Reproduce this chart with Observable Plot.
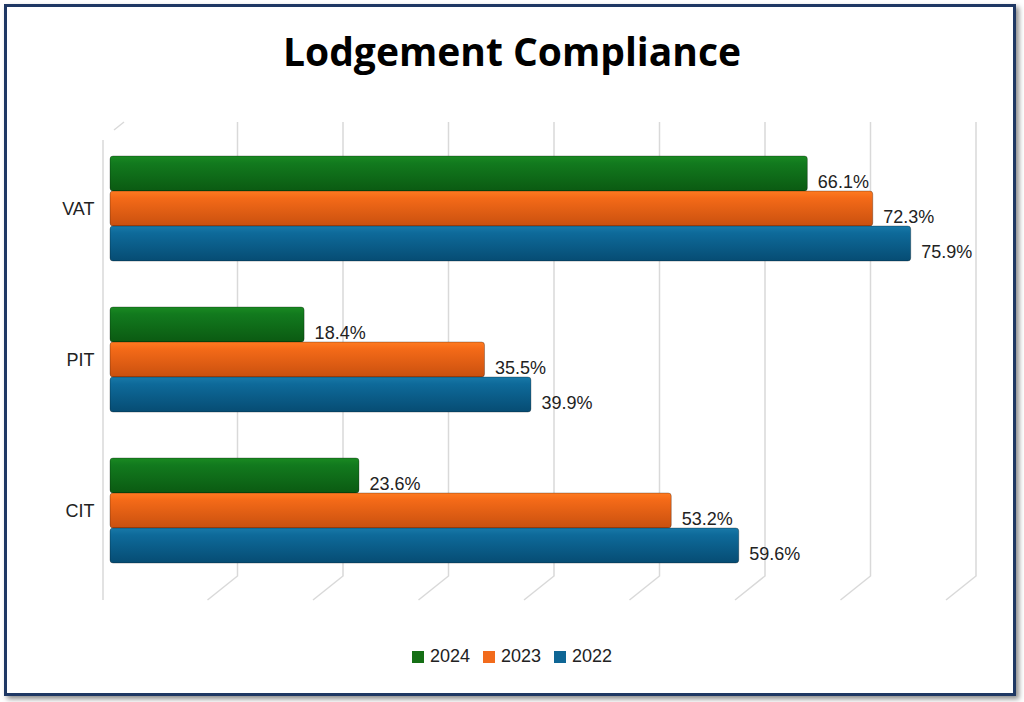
<!DOCTYPE html>
<html><head><meta charset="utf-8">
<script src="https://cdn.jsdelivr.net/npm/d3@7"></script>
<script src="https://cdn.jsdelivr.net/npm/@observablehq/plot@0.6"></script>
<style>
body{margin:0;background:#fff;font-family:"Liberation Sans",Arial,sans-serif;}
#wrap{position:relative;width:1024px;height:702px;overflow:hidden;}
#frame{position:absolute;left:4px;top:4px;width:1006px;height:686px;border:3px solid #1f3864;box-shadow:3px 3px 5px rgba(0,0,0,0.45);}
#title{position:absolute;left:0;width:1024px;top:24px;text-align:center;font:bold 39px "Open Sans","Liberation Sans",sans-serif;color:#000;}
#chart{position:absolute;left:0;top:0;}
#legend{position:absolute;top:646px;left:0;width:1024px;text-align:center;font-size:18px;color:#222;}
#legend span{display:inline-block;margin:0 4px;}
#legend i{display:inline-block;width:12px;height:12px;margin-right:6px;vertical-align:-1px;}
</style></head><body>
<div id="wrap"><div id="frame"></div><div id="title">Lodgement Compliance</div><div id="chart"></div>
<div id="legend"><span><i style="background:#156f15"></i>2024</span> <span><i style="background:#f26b1c"></i>2023</span> <span><i style="background:#0f6695"></i>2022</span></div></div>
<script>
const categories=["VAT","PIT","CIT"];
const years=["2024","2023","2022"];
const v2024=[66.1,18.4,23.6];
const v2023=[72.3,35.5,53.2];
const v2022=[75.9,39.9,59.6];
const gridTicks=[0,10,20,30,40,50,60,70,80];
const data=[];
categories.forEach((c,i)=>{
  data.push({cat:c,year:"2024",v:v2024[i]});
  data.push({cat:c,year:"2023",v:v2023[i]});
  data.push({cat:c,year:"2022",v:v2022[i]});
});
const grad={"2024":"url(#g24)","2023":"url(#g23)","2022":"url(#g22)"};
const plot=Plot.plot({
  width:1024,height:620,marginTop:155,marginBottom:55,marginLeft:110,marginRight:70,
  x:{domain:[0,80],axis:null},
  y:{domain:years,axis:null,padding:0},
  fy:{domain:categories,padding:0.29,label:null},
  style:{fontSize:"18px",fontFamily:"Liberation Sans, Arial, sans-serif",color:"#222",background:"transparent"},
  marks:[
    Plot.axisFy({anchor:"left",tickSize:0,tickPadding:16,fontSize:18,label:null}),
    ...years.map(y=>Plot.barX(data.filter(d=>d.year===y),{x:"v",y:"year",fy:"cat",fill:grad[y],stroke:"rgba(0,0,0,0.35)",strokeWidth:0.8,rx:3})),
    Plot.text(data,{x:"v",y:"year",fy:"cat",text:d=>d.v.toFixed(1)+"%",dx:10,dy:8,textAnchor:"start",fontSize:18,fill:"#222"})
  ]
});
const svg=d3.select(plot);
const defs=svg.insert("defs",":first-child");
const mk=(id,top,mid,bot)=>{const g=defs.append("linearGradient").attr("id",id).attr("x1",0).attr("x2",0).attr("y1",0).attr("y2",1);
 g.append("stop").attr("offset","0%").attr("stop-color",top);
 g.append("stop").attr("offset","20%").attr("stop-color",mid);
 g.append("stop").attr("offset","100%").attr("stop-color",bot);};
mk("g24","#1a8a22","#127a1e","#0b5a12");
mk("g23","#ff7a20","#f46a18","#c9500f");
mk("g22","#1879a8","#0e6a9a","#064c73");
const xs=plot.scale("x");
const gg=svg.insert("g","g[aria-label='bar']").attr("stroke","#d9d9d9").attr("stroke-width",1.5).attr("fill","none");
gridTicks.forEach(t=>{
  const x=xs.apply(t);
  if(t===0){gg.append("path").attr("d",`M${x-7},140V600`);gg.append("path").attr("d",`M${x+4},130L${x+14},122`);}
  else gg.append("path").attr("d",`M${x+22},122V576L${x-8},600`);
});
document.getElementById("chart").appendChild(plot);
</script></body></html>
